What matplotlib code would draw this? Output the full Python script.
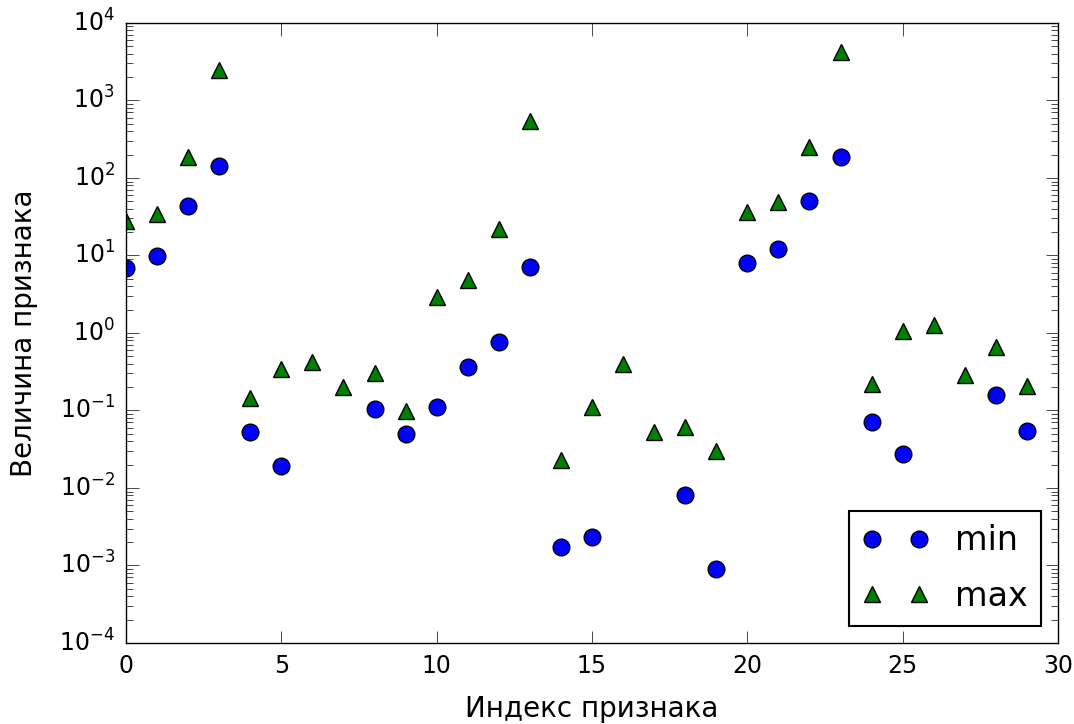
import matplotlib
matplotlib.use("Agg")
import matplotlib.pyplot as plt
import numpy as np

plt.style.use('classic')

# min / max of each feature (breast cancer training set)
feat_min = [6.98, 9.71, 43.79, 143.5, 0.0526, 0.0194, 0.0, 0.0, 0.106, 0.0500,
            0.1115, 0.360, 0.757, 7.2, 0.00175, 0.00235, 0.0, 0.0, 0.0080, 0.00090,
            7.93, 12.02, 50.41, 185.2, 0.0712, 0.0273, 0.0, 0.0, 0.1565, 0.0550]
feat_max = [28.11, 34.0, 188.5, 2501, 0.145, 0.3454, 0.4268, 0.2012, 0.304, 0.0974,
            2.873, 4.885, 21.98, 542.2, 0.0230, 0.110, 0.396, 0.0528, 0.062, 0.0298,
            36.04, 49.54, 251.2, 4254, 0.2226, 1.058, 1.252, 0.291, 0.6638, 0.2075]

fig = plt.figure(figsize=(10.74, 7.24), dpi=100, facecolor='white')
ax = fig.add_axes([0.1173, 0.1119, 0.8678, 0.8564])

ax.plot(feat_min, 'o', color='b', markersize=12, markeredgewidth=1, label="min")
ax.plot(feat_max, '^', color='g', markersize=12, markeredgewidth=1, label="max")

ax.set_yscale('log', nonpositive='mask')
ax.set_ylim(1e-4, 1e4)
ax.set_xlim(0, 30)
ax.tick_params(which='major', length=9, labelsize=17, pad=8)
ax.tick_params(which='minor', length=5)

ax.set_xlabel("Индекс признака", fontsize=20, labelpad=12)
ax.set_ylabel("Величина признака", fontsize=20, labelpad=15)

leg = ax.legend(loc=4, numpoints=2, fontsize=24, labelspacing=0.68)
leg.get_frame().set_linewidth(1.5)

fig.savefig("out.png", dpi=100, facecolor='white')
